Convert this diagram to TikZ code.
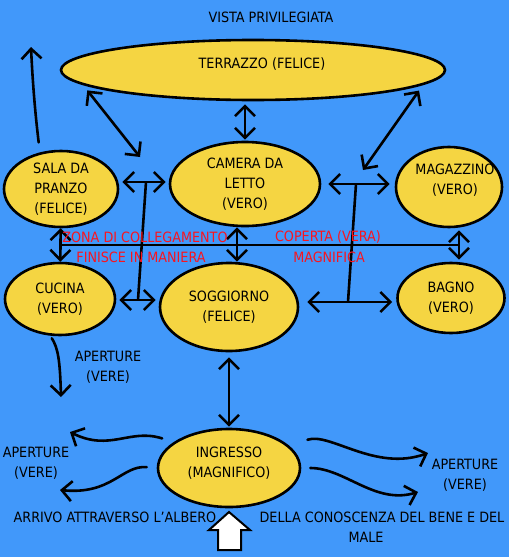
\documentclass[tikz,border=0pt]{standalone}
\usepackage{fontspec}
\setmainfont{DejaVu Sans Condensed}
\usetikzlibrary{shapes.geometric,arrows.meta}
\definecolor{sky}{RGB}{65,152,250}
\definecolor{sun}{RGB}{245,213,66}
\definecolor{redtext}{RGB}{250,20,30}
\begin{document}
\begin{tikzpicture}[x=1pt,y=-1pt,line width=2.6pt,
  >={Straight Barb[length=10pt,width=20pt]},
  every node/.style =
   {font=\fontsize{14.2}{20}\selectfont,align=center},
  room/.style = {ellipse,draw,fill=sun,inner sep=0pt},
  note/.style = {text=redtext},
  dbl/.style = {<->,shorten <=3pt,shorten >=3pt},
  hand/.style = {->,line cap=round,line join=round}]
   \fill[sky] (0,0) rectangle (509,557);
   \useasboundingbox (0,0) rectangle (509,557);
   \node[room,minimum width=384pt,minimum height=60pt,
         label={[xshift=9pt,yshift=6pt]center:TERRAZZO (FELICE)}] (terrazzo) at (253,70) {};
   \node[room,minimum width=114pt,minimum height=76pt] (sala) at (61,189) {SALA DA\\PRANZO\\(FELICE)};
   \node[room,minimum width=150pt,minimum height=84pt] (camera) at (245,184) {CAMERA DA\\LETTO\\(VERO)};
   \node[room,minimum width=106pt,minimum height=80pt,
         label={[align=center,xshift=6pt,yshift=7pt]center:MAGAZZINO\\(VERO)}] (magazzino) at (449,187) {};
   \node[room,minimum width=110pt,minimum height=72pt] (cucina) at (60,299) {CUCINA\\(VERO)};
   \node[room,minimum width=138pt,minimum height=88pt] (soggiorno) at (229,307) {SOGGIORNO\\(FELICE)};
   \node[room,minimum width=107pt,minimum height=70pt] (bagno) at (451,298) {BAGNO\\(VERO)};
   \node[room,minimum width=142pt,minimum height=78pt,
         label={[align=center,yshift=5pt]center:INGRESSO\\(MAGNIFICO)}] (ingresso) at (229,468) {};
   \coordinate (nw) at (140,157);
   \coordinate (ne) at (363,170);
   \coordinate (nl) at (146,182);
   \coordinate (sl) at (138,300);
   \coordinate (nr) at (356,184);
   \coordinate (sr) at (348,302);
   \coordinate (hub) at (237,245);
   \coordinate (hubr) at (459,245);
   \coordinate (exitn) at (31,47);
   \coordinate (exits) at (61,397);
   \coordinate (wup) at (70,432);
   \coordinate (wdown) at (60,490);
   \coordinate (eup) at (428,453);
   \coordinate (edown) at (418,492);
   \draw[dbl,shorten <=1pt] (camera.north) -- (camera.north |- terrazzo.south);
   \draw[<->,shorten >=7pt] (nw) -- (terrazzo.185.5);
   \draw[<->,shorten >=7pt] (ne) -- (terrazzo.-5.7);
   \draw[dbl] (sala.east |- nl) -- (camera.west |- nl);
   \draw (nl) -- (sl);
   \draw[dbl] (cucina.east |- sl) -- (soggiorno.west |- sl);
   \draw[dbl,shorten <=7pt,shorten >=5pt] (camera.east |- nr) -- (magazzino.west |- nr);
   \draw (nr) -- (sr);
   \draw[dbl,shorten <=8pt,shorten >=4pt] (soggiorno.east |- sr) -- (bagno.west |- sr);
   \draw (sala.south |- hub) -- (hubr);
   \draw[dbl,shorten <=0pt,shorten >=0pt] (sala) -- (cucina);
   \draw[dbl,shorten <=0pt,shorten >=0pt] (hub |- camera.south) -- (hub |- soggiorno.north);
   \draw[dbl,shorten <=2pt,shorten >=2pt] (hubr |- magazzino.south) -- (hubr |- bagno.north);
   \draw[<->,shorten <=5pt,shorten >=1pt] (soggiorno) -- (ingresso);
   \draw[hand,shorten <=10pt] (sala.120) .. controls (36,120) and (33,90) .. (exitn);
   \draw[hand,shorten <=3pt] (cucina.-105) .. controls (58,348) and (60,360) .. (exits);
   \draw[hand,shorten <=12pt] (ingresso.155) .. controls (130,428) and (110,452) .. (wup);
   \draw[hand,shorten <=10pt] (ingresso.west) .. controls (122,465) and (112,495) .. (wdown);
   \draw[hand,shorten <=19pt] (ingresso.20) .. controls (330,432) and (375,472) .. (eup);
   \draw[hand,shorten <=9pt] (ingresso.east) .. controls (345,468) and (375,505) .. (edown);
   \draw[line width=2pt,fill=white] (229,512) -- (250,530) -- (241,530) -- (241,550)
         -- (218,550) -- (218,530) -- (209,530) -- cycle;
   \node (vista) at (271,17) {VISTA PRIVILEGIATA};
   \node[note] (zona) at (145,237) {ZONA DI COLLEGAMENTO};
   \node[note] (finisce) at (141,257) {FINISCE IN MANIERA};
   \node[note] (coperta) at (328,237) {COPERTA (VERA)};
   \node[note] (magnifica) at (329,257) {MAGNIFICA};
   \node (apcucina) at (108,367) {APERTURE\\(VERE)};
   \node (apsx) at (36,463) {APERTURE\\(VERE)};
   \node (apdx) at (465,475) {APERTURE\\(VERE)};
   \node (arrivo) at (115,517) {ARRIVO ATTRAVERSO L'ALBERO};
   \node (conoscenza) at (382,517) {DELLA CONOSCENZA DEL BENE E DEL};
   \node (male) at (366,537) {MALE};
\end{tikzpicture}
\end{document}
